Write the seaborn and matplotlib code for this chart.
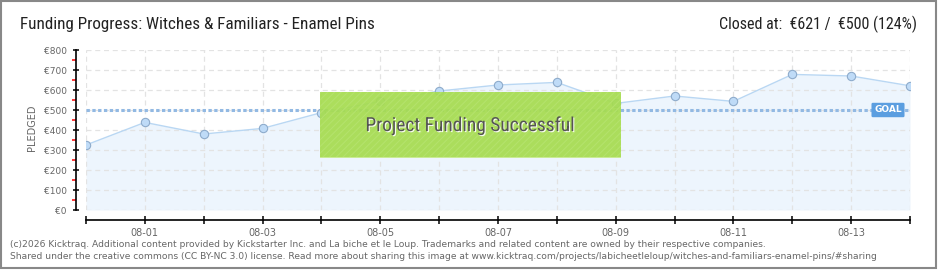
import matplotlib
matplotlib.use("Agg")
import matplotlib.pyplot as plt
import matplotlib.patheffects as pe
import matplotlib.transforms as mtransforms
from matplotlib.patches import Rectangle
from matplotlib import font_manager
import seaborn as sns
import numpy as np
import pandas as pd

# ---- data ----
dates = ["07-31", "08-01", "08-02", "08-03", "08-04", "08-05", "08-06", "08-07",
         "08-08", "08-09", "08-10", "08-11", "08-12", "08-13", "08-14"]
pledged = [325, 438, 380, 408, 487, 543, 595, 625, 638, 533, 570, 543, 678, 670, 621]
goal = 500
y_ticks = [0, 100, 200, 300, 400, 500, 600, 700, 800]
y_minor = [50, 150, 250, 350, 450, 550, 650, 750]
y_labels = ["€" + str(v) for v in y_ticks]
x_labels = [d if i % 2 == 1 else "" for i, d in enumerate(dates)]
title = "Funding Progress: Witches & Familiars - Enamel Pins"
closed_text = "Closed at:  €621 /  €500 (124%)"
banner = "Project Funding Successful"
goal_label = "GOAL"
y_axis_label = "PLEDGED"
footer1 = ("(c)2026 Kicktraq. Additional content provided by Kickstarter Inc. and La biche et le Loup. "
           "Trademarks and related content are owned by their respective companies.")
footer2 = ("Shared under the creative commons (CC BY-NC 3.0) license. Read more about sharing this image at "
           "www.kicktraq.com/projects/labicheetleloup/witches-and-familiars-enamel-pins/#sharing")

# ---- style ----
sns.set_theme(style="white")
avail = {f.name for f in font_manager.fontManager.ttflist}
cond = next((f for f in ["Liberation Sans Narrow", "Roboto Condensed", "Open Sans Condensed",
                         "Liberation Sans"] if f in avail), "DejaVu Sans")
plt.rcParams["font.family"] = ["DejaVu Sans"]
plt.rcParams["hatch.linewidth"] = 0.8

W, H = 940, 270
fig = plt.figure(figsize=(W / 100, H / 100), dpi=100)
fig.patch.set_facecolor("white")
ax = fig.add_axes([86 / W, 60 / H, 824 / W, 160 / H])

df = pd.DataFrame({"day": np.arange(len(dates)), "pledged": pledged})

ax.fill_between(df["day"], df["pledged"], 0, color="#edf5fd", lw=0, zorder=0.4)
sns.lineplot(data=df, x="day", y="pledged", ax=ax, color="#b9d7f3", lw=1.0,
             marker="o", markersize=6, markerfacecolor="#bfdbf7",
             markeredgecolor="#8eabcb", markeredgewidth=0.8, zorder=3)
ax.axhline(goal, color="#92b9e3", lw=2.2, linestyle=(0, (1.1, 0.8)),
           dash_capstyle="butt", zorder=2.5)

ax.set_xlim(0, len(dates) - 1)
ax.set_ylim(0, 800)
ax.set_xticks(df["day"])
ax.set_xticklabels(x_labels)
ax.set_yticks(y_ticks)
ax.set_yticklabels(y_labels)
ax.set_yticks(y_minor, minor=True)
ax.set_xlabel("")
ax.set_ylabel("")

ax.grid(True, which="major", linestyle=(0, (4, 3)), color="#e3e3e3", lw=0.9)
ax.set_axisbelow(True)

sns.despine(ax=ax, offset=7.2, trim=True)
for s in ["left", "bottom"]:
    ax.spines[s].set_color("black")
    ax.spines[s].set_linewidth(1.2)

ax.tick_params(axis="x", which="major", direction="inout", length=6, width=1.1,
               color="black", labelsize=7, labelcolor="#666666", pad=3, bottom=True)
ax.tick_params(axis="y", which="major", direction="inout", length=5, width=1.1,
               color="black", labelsize=6.5, labelcolor="#666666", pad=4, left=True)
ax.tick_params(axis="y", which="minor", direction="out", length=3, width=1.1,
               color="red", left=True)

# Banner (axes fraction)
bx0, bx1 = (320 - 86) / 824, (621 - 86) / 824
by0, by1 = (210 - 158) / 160, (210 - 92) / 160
ax.add_patch(Rectangle((bx0, by0), bx1 - bx0, by1 - by0, transform=ax.transAxes,
                       facecolor="#a6dc50", edgecolor="none", alpha=0.93, zorder=5, clip_on=False))
ax.add_patch(Rectangle((bx0, by0), bx1 - bx0, by1 - by0, transform=ax.transAxes,
                       facecolor="none", edgecolor="#b4e26c", lw=0, hatch="/////",
                       zorder=5.1, clip_on=False))
ax.add_patch(Rectangle((bx0, by0), bx1 - bx0, 1.5 / 160, transform=ax.transAxes,
                       facecolor="#c9eb94", edgecolor="none", zorder=5.2, clip_on=False))
ax.text((bx0 + bx1) / 2, (210 - 126) / 160, banner, transform=ax.transAxes,
        ha="center", va="center", fontsize=14, color="#555555", family=[cond, "DejaVu Sans"],
        zorder=6,
        path_effects=[pe.withSimplePatchShadow(offset=(0.8, -0.8), shadow_rgbFace="white", alpha=0.9)])

# GOAL label
trans = mtransforms.blended_transform_factory(ax.transAxes, ax.transData)
ax.text((888 - 86) / 824, goal, goal_label, transform=trans, ha="center", va="center",
        fontsize=6.5, color="white", fontweight="bold", zorder=7,
        bbox=dict(boxstyle="round,pad=0.3,rounding_size=0.15", facecolor="#5b9ee0",
                  edgecolor="none"))

# Y axis label
fig.text(32 / W, 1 - 128 / H, y_axis_label, rotation=90, ha="center", va="center",
         fontsize=7, color="#666666")

# Titles
fig.text(20 / W, 1 - 29 / H, title, ha="left", va="baseline", fontsize=12.3,
         color="#222222", family=[cond, "DejaVu Sans"])
fig.text(917 / W, 1 - 29 / H, closed_text, ha="right", va="baseline", fontsize=11.5,
         color="#222222", family=[cond, "DejaVu Sans"])

# Footer
fig.text(10 / W, 1 - 247 / H, footer1, ha="left", va="baseline", fontsize=6.6, color="#666666")
fig.text(10 / W, 1 - 259 / H, footer2, ha="left", va="baseline", fontsize=6.6, color="#666666")

# Border
fig.patches.append(Rectangle((1 / W, 2 / H), 935 / W, 267 / H, transform=fig.transFigure,
                             fill=False, edgecolor="#888888", lw=1.5))

fig.savefig("out.png", dpi=100)
